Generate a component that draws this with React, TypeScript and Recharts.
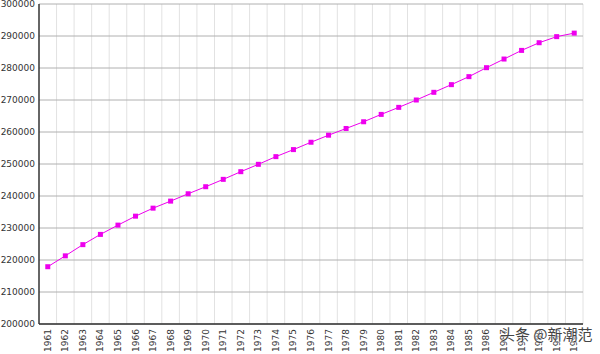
import { CartesianGrid, Line, LineChart, XAxis, YAxis } from 'recharts';

const years = [
  '1961', '1962', '1963', '1964', '1965', '1966', '1967', '1968', '1969', '1970',
  '1971', '1972', '1973', '1974', '1975', '1976', '1977', '1978', '1979', '1980',
  '1981', '1982', '1983', '1984', '1985', '1986', '1987', '1988', '1989', '1990', '1991',
];

const population = [
  217900, 221300, 224800, 228000, 230900, 233700, 236200, 238400, 240700, 242900,
  245200, 247600, 249900, 252300, 254500, 256800, 259000, 261100, 263200, 265500,
  267700, 270000, 272400, 274800, 277300, 280100, 282800, 285500, 287900, 289800, 290900,
];

const yTicks = [200000, 210000, 220000, 230000, 240000, 250000, 260000, 270000, 280000, 290000, 300000];

const data = years.map((year, i) => ({ year, value: population[i] }));

const FONT = '"DejaVu Sans", Verdana, sans-serif';

function YearTick({ x, y, payload }: any) {
  return (
    <text
      x={0}
      y={0}
      transform={`translate(${x},${y + 5}) rotate(-90)`}
      textAnchor="end"
      dominantBaseline="central"
      fontSize={9}
      fontFamily={FONT}
      fill="#333"
    >
      {payload.value}
    </text>
  );
}

function SquareDot({ cx, cy, index }: any) {
  return <rect key={index} x={cx - 2.5} y={cy - 2.5} width={5} height={5} fill="#ee00ee" />;
}

export default function App() {
  return (
    <div style={{ position: 'fixed', left: 0, top: 0, width: 600, height: 354, background: '#fff' }}>
      <LineChart
        width={600}
        height={354}
        data={data}
        margin={{ top: 4, right: 17, bottom: 0, left: 0 }}
      >
        <CartesianGrid
          stroke="#e2e2e2"
          horizontal={false}
          verticalCoordinatesGenerator={({ offset }: any) =>
            years.map((_, i) => offset.left + ((i + 1) * offset.width) / years.length)
          }
        />
        <CartesianGrid stroke="#b0b0b0" vertical={false} />
        <XAxis
          dataKey="year"
          scale="band"
          interval={0}
          height={30}
          tick={<YearTick />}
          tickLine={false}
          tickSize={0}
          tickMargin={0}
          axisLine={{ stroke: '#333', strokeWidth: 1.5 }}
        />
        <XAxis
          xAxisId="top"
          orientation="top"
          dataKey="year"
          scale="band"
          height={0}
          tick={false}
          tickLine={false}
          axisLine={{ stroke: '#555' }}
        />
        <YAxis
          domain={[200000, 300000]}
          ticks={yTicks}
          width={39}
          interval={0}
          tickLine={false}
          tickSize={0}
          tickMargin={4}
          axisLine={{ stroke: '#333', strokeWidth: 1.5 }}
          tick={{ fontSize: 9, fontFamily: FONT, fill: '#333' }}
        />
        <YAxis
          yAxisId="right"
          orientation="right"
          width={0}
          tick={false}
          tickLine={false}
          axisLine={{ stroke: '#555' }}
        />
        <Line
          type="linear"
          dataKey="value"
          stroke="#ee00ee"
          strokeWidth={1}
          dot={<SquareDot />}
          activeDot={false}
          isAnimationActive={false}
        />
      </LineChart>
      <div
        style={{
          position: 'absolute',
          left: 500,
          top: 324,
          width: 96,
          fontSize: 15,
          lineHeight: '20px',
          fontFamily: '"Noto Sans CJK SC", sans-serif',
          color: '#444',
          whiteSpace: 'nowrap',
          textShadow: '0 0 2px #fff, 0 0 2px #fff',
        }}
      >
        头条 @新潮范
      </div>
    </div>
  );
}
